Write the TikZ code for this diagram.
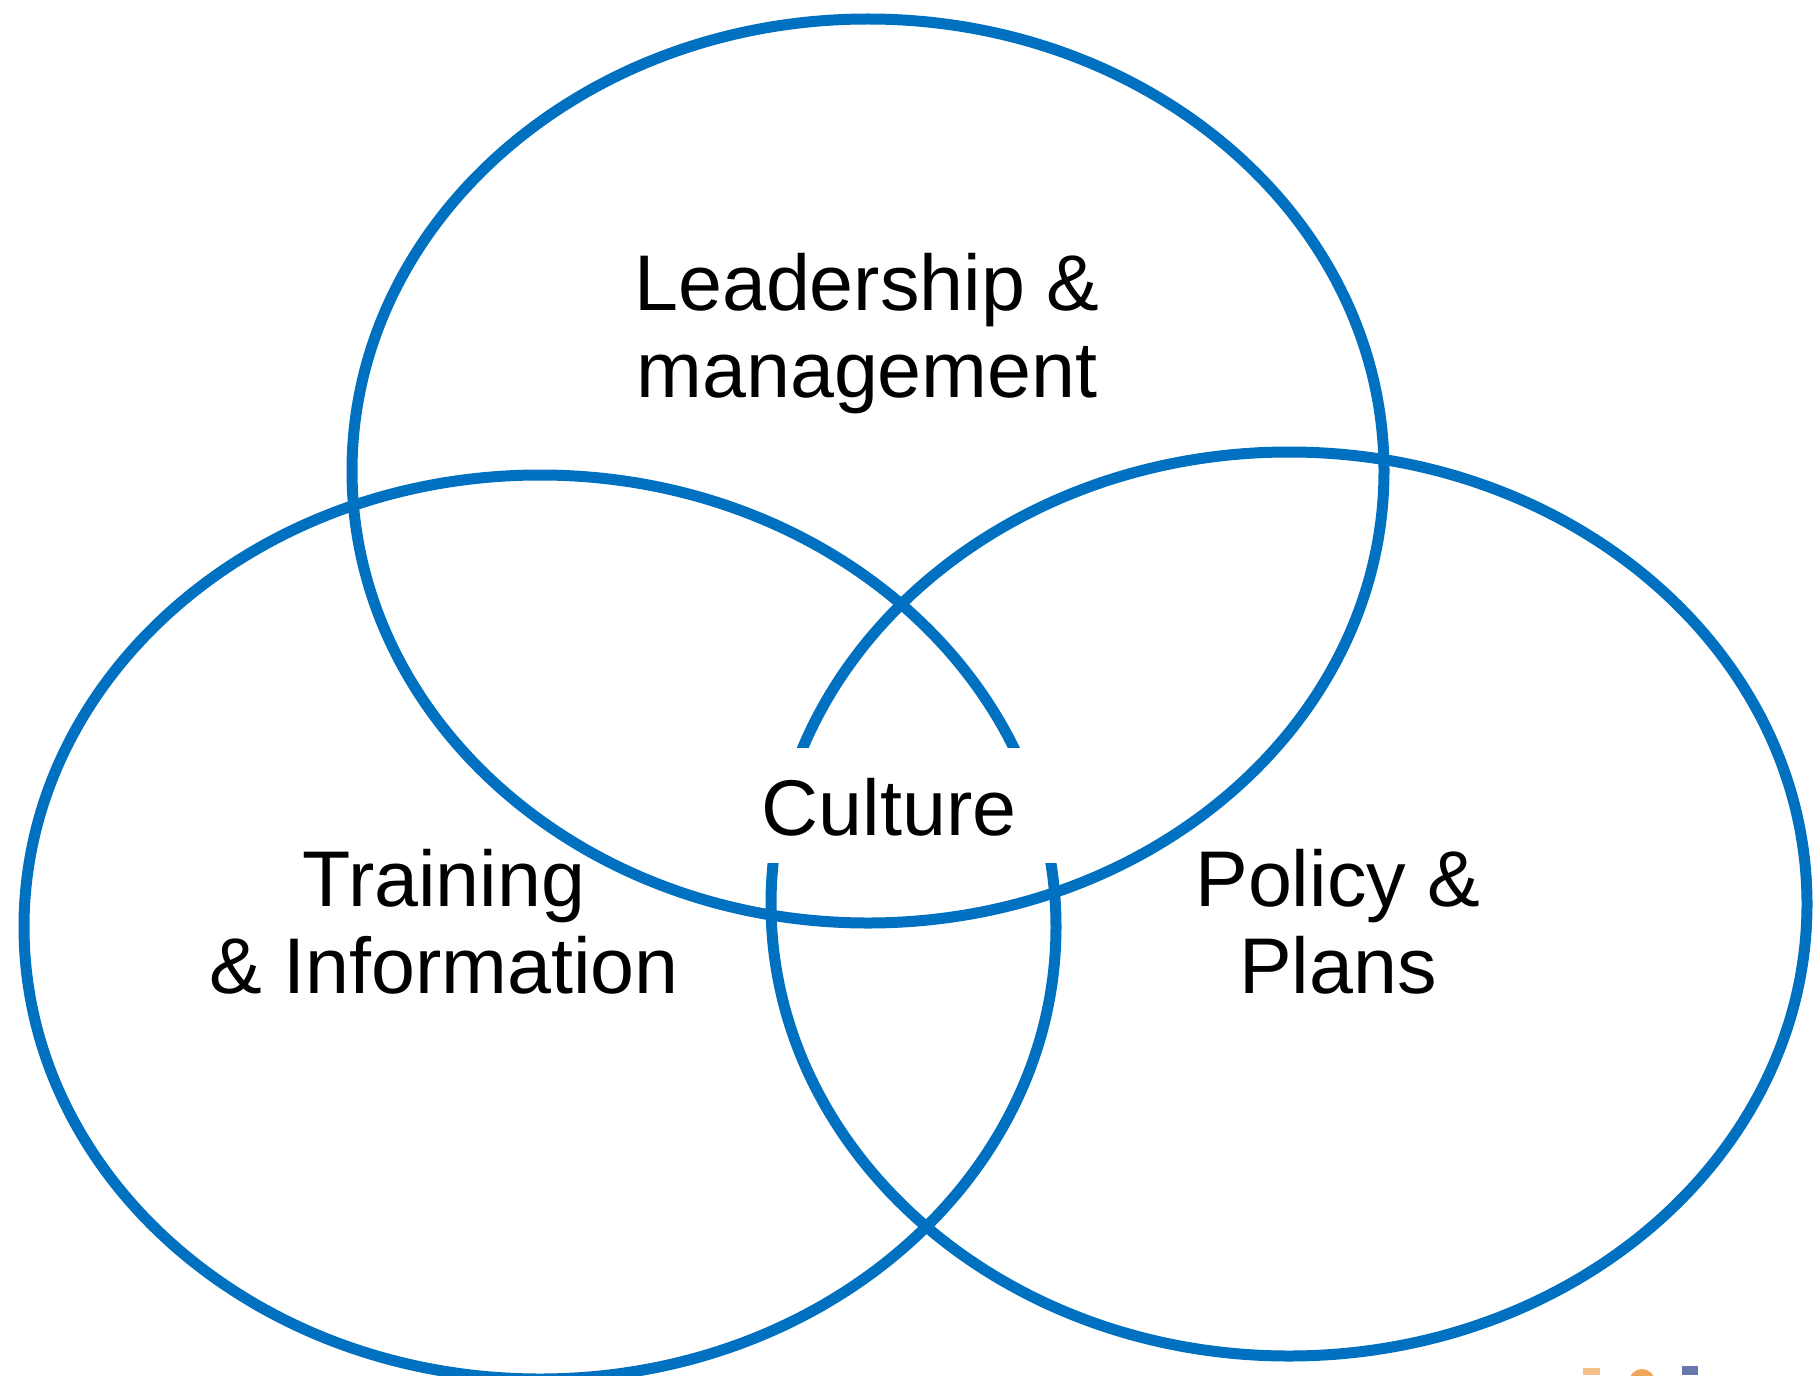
\documentclass[tikz,border=0pt]{standalone}
\usepackage{fontspec}
\setmainfont{Liberation Sans}
\begin{document}
\begin{tikzpicture}[x=1pt,y=-1pt,
  ring/.style={draw=ringblue,line width=11pt},
  label/.style={font=\fontsize{79}{87}\selectfont,align=center,anchor=base,inner sep=0pt,text=black},
  mask/.style={fill=white,draw=none}]
\definecolor{ringblue}{RGB}{0,112,192}
\definecolor{logoorange}{RGB}{236,150,60}
\definecolor{logoblue}{RGB}{40,60,140}
\useasboundingbox[fill=white] (0,0) rectangle (1819,1375);

% the three overlapping rings
\path[ring] (868,471) ellipse [x radius=516, y radius=452];
\path[ring] (540,927) ellipse [x radius=516, y radius=452];
\path[ring] (1289,904) ellipse [x radius=518, y radius=452];

% white panel behind the centre label
\coordinate (maskA) at (760,748);
\coordinate (maskB) at (1066,863);
\path[mask] (maskA) rectangle (maskB);

% labels (anchored on the baseline of their last line)
\node[label] (lead) at (867,397) {Leadership \&\\management};
\node[label] (train) at (444,993) {Training\\\& Information};
\node[label] (policy) at (1338,993) {Policy \&\\Plans};
\node[label] (culture) at (889,835) {Culture};

% corner logo fragment
\fill[logoorange!60] (1583,1368) rectangle (1600,1375);
\fill[logoorange!85] (1642,1382) circle [radius=13];
\fill[logoblue!70] (1682,1366) rectangle (1698,1375);
\end{tikzpicture}
\end{document}
